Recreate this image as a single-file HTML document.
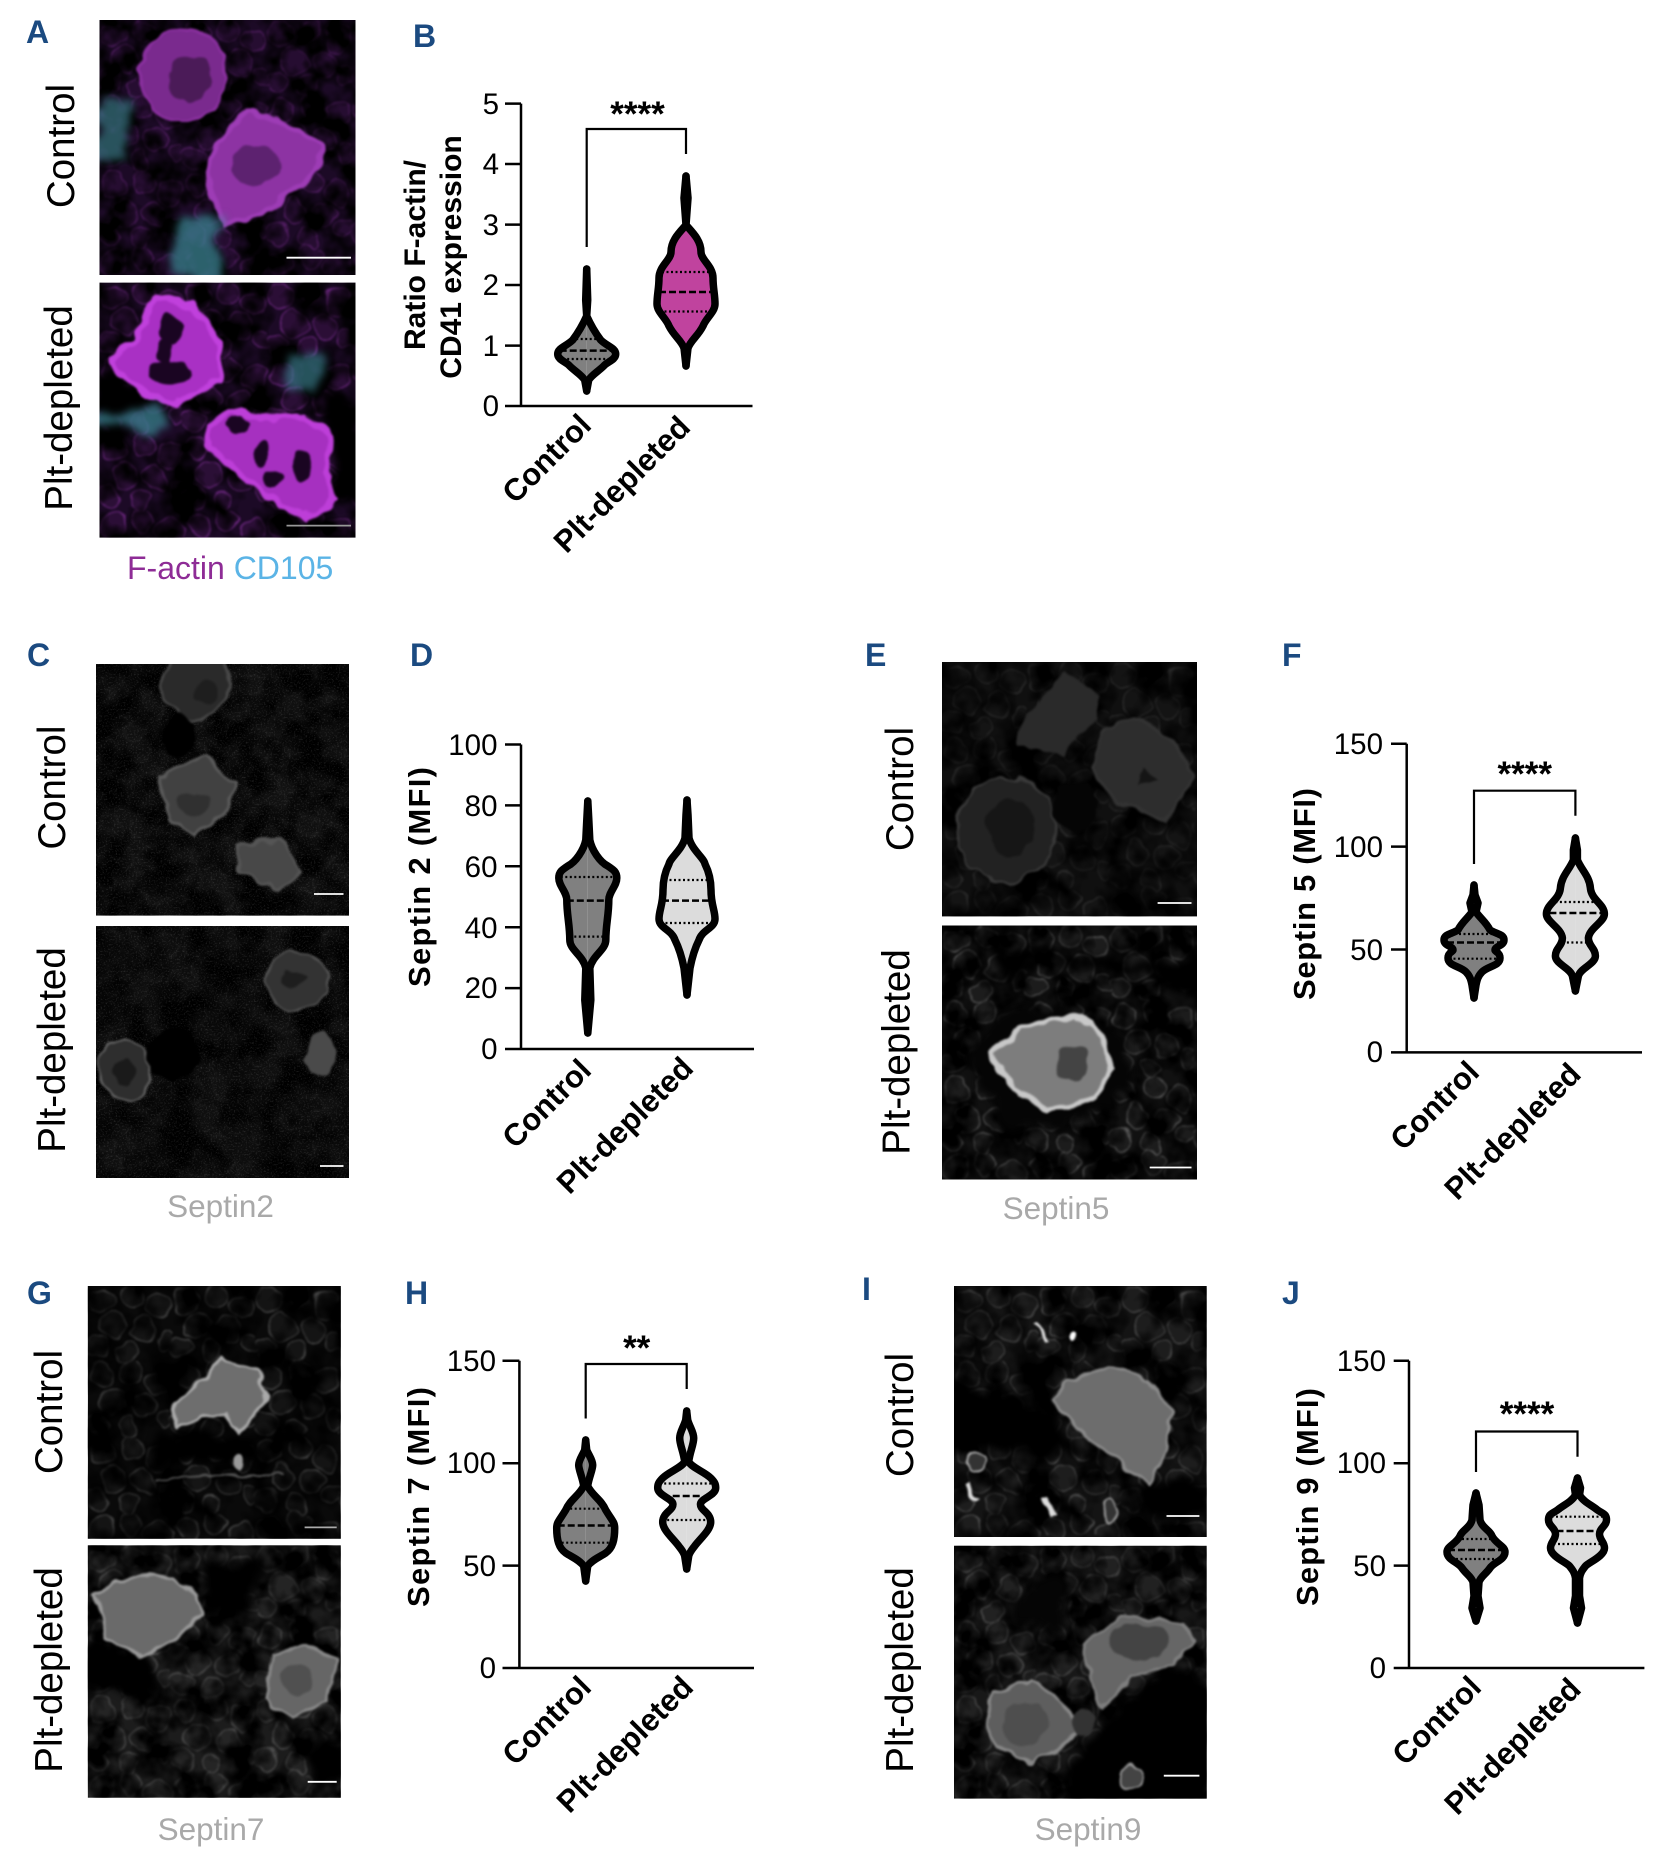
<!DOCTYPE html>
<html><head><meta charset="utf-8"><style>
html,body{margin:0;padding:0;background:#fff}
svg{display:block}
text{font-family:"Liberation Sans",Arial,sans-serif}
.L{font-size:32px;font-weight:700;fill:#1b4a80}
.R{font-size:38.5px;fill:#000;text-anchor:middle}
.C{font-size:31.5px;fill:#a9a9a9;text-anchor:middle}
.T{font-size:29.5px;fill:#000;text-anchor:end}
.Y{font-size:31px;font-weight:700;fill:#000;text-anchor:middle}
.X{font-size:31px;font-weight:700;fill:#000;text-anchor:end}
.S{font-size:35px;font-weight:700;fill:#000;text-anchor:middle}
.ax{fill:none;stroke:#000;stroke-width:2.5}
.br{fill:none;stroke:#000;stroke-width:2.2}
.v{stroke:#000;stroke-width:7.5;stroke-linejoin:round;stroke-linecap:round}
.m{stroke:#000;stroke-width:2.5;stroke-dasharray:7 3;fill:none}
.q{stroke:#000;stroke-width:2.2;stroke-dasharray:2 2.5;fill:none}
.sb{stroke:#fff;stroke-width:1.8}
</style></head><body>
<svg xmlns="http://www.w3.org/2000/svg" width="1659" height="1859" viewBox="0 0 1659 1859">
<defs>
<filter id="b1" x="-10%" y="-10%" width="120%" height="120%" color-interpolation-filters="sRGB"><feTurbulence type="fractalNoise" baseFrequency=".05" numOctaves="2" seed="3" result="n"/><feDisplacementMap in="SourceGraphic" in2="n" scale="13" xChannelSelector="R" yChannelSelector="G"/><feGaussianBlur stdDeviation="1"/></filter>
<filter id="b3" x="-40%" y="-40%" width="180%" height="180%" color-interpolation-filters="sRGB"><feTurbulence type="fractalNoise" baseFrequency=".025" numOctaves="3" seed="8" result="n"/><feDisplacementMap in="SourceGraphic" in2="n" scale="45" xChannelSelector="R" yChannelSelector="G"/><feGaussianBlur stdDeviation="4"/></filter>
<filter id="bl" x="0" y="0" width="100%" height="100%" color-interpolation-filters="sRGB"><feTurbulence type="fractalNoise" baseFrequency=".035" numOctaves="3" seed="7"/><feColorMatrix values="0 0 0 0 0 0 0 0 0 0 0 0 0 0 0 3 0 0 0 -1"/></filter>
<filter id="bk" x="0" y="0" width="100%" height="100%" color-interpolation-filters="sRGB"><feTurbulence type="fractalNoise" baseFrequency=".03" numOctaves="3" seed="21"/><feColorMatrix values="0 0 0 0 0 0 0 0 0 0 0 0 0 0 0 3 0 0 0 -1"/></filter>
<filter id="sp" x="0" y="0" width="100%" height="100%" color-interpolation-filters="sRGB"><feTurbulence type="fractalNoise" baseFrequency=".6" numOctaves="2" seed="5"/><feColorMatrix values="0 0 0 0 1 0 0 0 0 1 0 0 0 0 1 3 0 0 0 -1.55"/></filter>
<pattern id="pg" width="84" height="76" patternUnits="userSpaceOnUse">
<g fill="#fff" fill-opacity=".09" stroke="#fff" stroke-opacity=".5" stroke-width="1.2">
<circle cx="14" cy="14" r="12"/><circle cx="44" cy="10" r="11"/><circle cx="70" cy="20" r="13"/>
<circle cx="26" cy="40" r="13"/><circle cx="56" cy="44" r="12"/><circle cx="78" cy="56" r="9"/>
<circle cx="10" cy="62" r="11"/><circle cx="40" cy="66" r="10"/></g></pattern>
<pattern id="pp" width="84" height="76" patternUnits="userSpaceOnUse">
<g fill="#8d33a3" fill-opacity=".16" stroke="#a63cc0" stroke-opacity=".65" stroke-width="1.2">
<circle cx="14" cy="14" r="12"/><circle cx="44" cy="10" r="11"/><circle cx="70" cy="20" r="13"/>
<circle cx="26" cy="40" r="13"/><circle cx="56" cy="44" r="12"/><circle cx="78" cy="56" r="9"/>
<circle cx="10" cy="62" r="11"/><circle cx="40" cy="66" r="10"/></g></pattern>
</defs>
<rect width="1659" height="1859" fill="#fff"/>

<!-- Panel letters -->
<text class="L" x="26" y="43">A</text><text class="L" x="413" y="47">B</text>
<text class="L" x="27" y="666">C</text><text class="L" x="410" y="666">D</text>
<text class="L" x="865" y="666">E</text><text class="L" x="1282" y="666">F</text>
<text class="L" x="27" y="1304">G</text><text class="L" x="405" y="1304">H</text>
<text class="L" x="862" y="1300">I</text><text class="L" x="1282" y="1304">J</text>

<!-- A images -->
<svg x="99.5" y="20" width="256" height="255" viewBox="0 0 256 255">
<rect width="256" height="255" fill="#1c0a26"/>
<rect width="256" height="255" fill="url(#pp)" opacity=".55" filter="url(#b1)"/>
<rect width="256" height="255" filter="url(#bl)"/>
<g filter="url(#b1)">
<ellipse cx="84" cy="55" rx="43" ry="46" fill="#7a2a8e" stroke="#8a309f" stroke-width="3"/>
<ellipse cx="90" cy="58" rx="22" ry="24" fill="#4b1b58"/>
<path d="M145 93 186 103 224 126 217 150 196 170 166 190 125 205 112 170 110 138 125 115Z" fill="#8d33a3" stroke="#9d3cb5" stroke-width="5" stroke-linejoin="round"/>
<ellipse cx="156" cy="146" rx="25" ry="20" fill="#5d2270"/>
</g>
<g filter="url(#b3)"><rect x="-6" y="83" width="36" height="60" fill="#3f7f8f" opacity=".65"/><rect x="76" y="200" width="48" height="60" fill="#3f8a9a" opacity=".7"/></g>
<line class="sb" x1="187" y1="237.7" x2="251.5" y2="237.7"/>
</svg>
<svg x="99.5" y="282.6" width="256" height="255" viewBox="0 0 256 255">
<rect width="256" height="255" fill="#1c0a26"/>
<rect width="256" height="255" fill="url(#pp)" opacity=".85" filter="url(#b1)"/>
<rect width="256" height="255" filter="url(#bk)"/>
<g filter="url(#b3)"><rect x="-10" y="93" width="58" height="35" fill="#000"/><rect x="232" y="110" width="34" height="110" fill="#000"/></g>
<g filter="url(#b1)">
<path d="M54 14 94 22 120 61 120 97 79 121 48 113 10 81 23 65 38 57Z" fill="#a930c4" stroke="#c040dc" stroke-width="6" stroke-linejoin="round"/>
<ellipse cx="72" cy="46" rx="11" ry="14" fill="#1a0522"/><ellipse cx="70" cy="90" rx="21" ry="12" fill="#1a0522"/><ellipse cx="65" cy="68" rx="7" ry="14" fill="#1a0522"/>
<path d="M110 144 130 128 161 136 207 134 230 152 227 191 237 215 207 235 176 219 140 191 110 164Z" fill="#a630c0" stroke="#bd3ed8" stroke-width="6" stroke-linejoin="round"/>
<ellipse cx="138" cy="142" rx="13" ry="8" fill="#1a0522"/><ellipse cx="163" cy="172" rx="8" ry="12" fill="#1a0522"/><ellipse cx="173" cy="196" rx="8" ry="10" fill="#1a0522"/><ellipse cx="202" cy="184" rx="10" ry="16" fill="#1a0522"/>
</g>
<g filter="url(#b3)"><rect x="-6" y="130" width="66" height="16" fill="#3f8a9a" opacity=".7"/><rect x="188" y="70" width="32" height="48" fill="#3f8a9a" opacity=".6"/></g>
<line x1="187" y1="243" x2="251.5" y2="243" stroke="#999" stroke-width="1.8"/>
</svg>
<text class="R" transform="translate(74,146) rotate(-90)">Control</text>
<text class="R" transform="translate(72,408) rotate(-90)">Plt-depleted</text>
<text x="127" y="579" font-size="32"><tspan fill="#8e2c96">F-actin</tspan><tspan fill="#5bb4e6"> CD105</tspan></text>

<!-- C images -->
<svg x="96" y="664" width="253" height="251.6" viewBox="0 0 253 251.6">
<rect width="253" height="251.6" fill="#0f0f0f"/>
<rect width="253" height="251.6" fill="url(#pg)" opacity=".12" filter="url(#b1)"/>
<rect width="253" height="251.6" filter="url(#bl)"/>
<rect width="253" height="251.6" filter="url(#sp)" opacity=".12"/>
<g filter="url(#b1)">
<ellipse cx="100" cy="20" rx="33" ry="36" fill="#2a2a2a" stroke="#484848" stroke-width="3"/>
<ellipse cx="110" cy="28" rx="12" ry="12" fill="#1e1e1e"/>
<ellipse cx="83" cy="70" rx="18" ry="20" fill="#000"/>
<path d="M62 112 108 92 141 118 128 150 98 174 72 154Z" fill="#414141" stroke="#5a5a5a" stroke-width="3" stroke-linejoin="round"/>
<ellipse cx="98" cy="140" rx="16" ry="12" fill="#303030"/>
<path d="M141 181 185 177 205 209 181 225 143 209Z" fill="#484848" stroke="#555" stroke-width="3" stroke-linejoin="round"/>
</g>
<line class="sb" x1="218" y1="230" x2="247.5" y2="230"/>
</svg>
<svg x="96" y="926" width="253" height="252" viewBox="0 0 253 252">
<rect width="253" height="252" fill="#0d0d0d"/>
<rect width="253" height="252" fill="url(#pg)" opacity=".1" filter="url(#b1)"/>
<rect width="253" height="252" filter="url(#bk)"/>
<rect width="253" height="252" filter="url(#sp)" opacity=".12"/>
<g filter="url(#b1)">
<ellipse cx="200" cy="55" rx="30" ry="30" fill="#333" stroke="#555" stroke-width="2"/>
<ellipse cx="197" cy="53" rx="12" ry="8" fill="#1e1e1e"/>
<ellipse cx="29" cy="144" rx="26" ry="30" fill="#2e2e2e" stroke="#666" stroke-width="2"/>
<ellipse cx="28" cy="146" rx="11" ry="13" fill="#1a1a1a"/>
<ellipse cx="225" cy="128" rx="14" ry="22" fill="#4a4a4a"/>
<ellipse cx="78" cy="128" rx="25" ry="26" fill="#000"/>
</g>
<line class="sb" x1="224" y1="240" x2="247.5" y2="240"/>
</svg>
<text class="R" transform="translate(65,787.6) rotate(-90)">Control</text>
<text class="R" transform="translate(65,1050) rotate(-90)">Plt-depleted</text>
<text class="C" x="220.5" y="1217">Septin2</text>

<!-- E images -->
<svg x="942" y="662" width="255" height="254.4" viewBox="0 0 255 254.4">
<rect width="255" height="254.4" fill="#101010"/>
<rect width="255" height="254.4" fill="url(#pg)" opacity=".22" filter="url(#b1)"/>
<rect width="255" height="254.4" filter="url(#bk)"/>
<g filter="url(#b1)">
<path d="M123 9 154 37 154 57 118 92 76 80 86 57Z" fill="#2a2a2a" stroke="#2a2a2a" stroke-width="4" stroke-linejoin="round"/>
<path d="M191 53 232 77 251 116 222 159 175 140 149 108 159 69Z" fill="#2d2d2d" stroke="#333" stroke-width="3" stroke-linejoin="round"/>
<path d="M200 105 216 118 196 122Z" fill="#151515"/>
<ellipse cx="133" cy="144" rx="22" ry="25" fill="#050505"/>
<ellipse cx="65" cy="168" rx="50" ry="52" fill="#222" stroke="#3a3a3a" stroke-width="2"/>
<ellipse cx="68" cy="165" rx="25" ry="28" fill="#161616"/>
</g>
<line class="sb" x1="215.6" y1="241" x2="249.5" y2="241"/>
</svg>
<svg x="942" y="925.5" width="255" height="254" viewBox="0 0 255 254">
<rect width="255" height="254" fill="#111"/>
<rect width="255" height="254" fill="url(#pg)" opacity=".55" filter="url(#b1)"/>
<rect width="255" height="254" filter="url(#bl)"/>
<g filter="url(#b3)"><ellipse cx="108" cy="140" rx="78" ry="64" fill="#050505"/><path d="M60 50Q130 15 265 75V40L60 25Z" fill="#000"/></g>
<g filter="url(#b1)">
<path d="M50 129 76 102 133 90 159 110 170 141 154 173 107 185 76 169Z" fill="#7d7d7d" stroke="#c8c8c8" stroke-width="5" stroke-linejoin="round"/>
<ellipse cx="131" cy="137" rx="16" ry="18" fill="#444"/>
</g>
<line class="sb" x1="207.7" y1="242" x2="249.5" y2="242"/>
</svg>
<text class="R" transform="translate(913,789) rotate(-90)">Control</text>
<text class="R" transform="translate(909.5,1052) rotate(-90)">Plt-depleted</text>
<text class="C" x="1056" y="1219">Septin5</text>

<!-- G images -->
<svg x="87.8" y="1286" width="253" height="252.8" viewBox="0 0 253 252.8">
<rect width="253" height="252.8" fill="#0a0a0a"/>
<rect width="253" height="252.8" fill="url(#pg)" opacity=".5" filter="url(#b1)"/>
<rect width="253" height="252.8" filter="url(#bk)"/>
<g filter="url(#b3)"><rect x="60" y="145" width="110" height="35" fill="#000"/></g>
<g filter="url(#b1)">
<path d="M86 119 116 92 136 73 167 85 180 108 172 127 152 146 137 129 111 131 91 142Z" fill="#6e6e6e" stroke="#aaa" stroke-width="3" stroke-linejoin="round"/>
<ellipse cx="150" cy="176" rx="6" ry="8" fill="#999"/>
<line x1="70" y1="192" x2="195" y2="186" stroke="#555" stroke-width="2"/>
</g>
<line x1="216.8" y1="241.4" x2="248.9" y2="241.4" stroke="#aaa" stroke-width="1.8"/>
</svg>
<svg x="87.8" y="1545.3" width="253" height="252.5" viewBox="0 0 253 252.5">
<rect width="253" height="252.5" fill="#1c1c1c"/>
<rect width="253" height="252.5" fill="url(#pg)" opacity=".45" filter="url(#b1)"/>
<rect width="253" height="252.5" filter="url(#bl)"/>
<g filter="url(#b3)"><rect x="-10" y="97" width="75" height="50" fill="#000"/><rect x="116" y="13" width="50" height="55" fill="#000"/><rect x="225" y="190" width="38" height="50" fill="#000"/></g>
<g filter="url(#b1)">
<path d="M7 51 30 36 86 30 109 51 114 70 86 93 53 112 19 93Z" fill="#6a6a6a" stroke="#999" stroke-width="3" stroke-linejoin="round"/>
<path d="M185 108 218 100 249 116 239 154 203 173 178 154Z" fill="#666" stroke="#888" stroke-width="3" stroke-linejoin="round"/>
<ellipse cx="208" cy="135" rx="16" ry="16" fill="#505050"/>
</g>
<line class="sb" x1="219.9" y1="236.5" x2="248.9" y2="236.5"/>
</svg>
<text class="R" transform="translate(62,1412) rotate(-90)">Control</text>
<text class="R" transform="translate(62,1670) rotate(-90)">Plt-depleted</text>
<text class="C" x="211" y="1840">Septin7</text>

<!-- I images -->
<svg x="954" y="1286" width="252.7" height="251" viewBox="0 0 252.7 251">
<rect width="252.7" height="251" fill="#141414"/>
<rect width="252.7" height="251" fill="url(#pg)" opacity=".45" filter="url(#b1)"/>
<rect width="252.7" height="251" filter="url(#bk)"/>
<g filter="url(#b3)"><path d="M-10 90 95 125 125 165 100 175 -10 160Z" fill="#000"/><rect x="190" y="195" width="60" height="35" fill="#000"/></g>
<g filter="url(#b1)">
<path d="M111 96 152 81 194 93 218 127 212 165 194 199 168 177 126 146 100 115Z" fill="#6d6d6d" stroke="#8a8a8a" stroke-width="3" stroke-linejoin="round"/>
<ellipse cx="121" cy="52" rx="4" ry="5" fill="#fff"/>
<path d="M82 35 95 55" stroke="#ddd" stroke-width="4"/>
<circle cx="22" cy="175" r="9" fill="#333" stroke="#aaa" stroke-width="2"/>
<ellipse cx="155" cy="226" rx="8" ry="11" fill="#333" stroke="#999" stroke-width="2"/>
<path d="M12 198 24 215" stroke="#ddd" stroke-width="4"/>
<path d="M92 215 100 228" stroke="#ddd" stroke-width="5"/>
</g>
<line class="sb" x1="212.5" y1="230" x2="245.4" y2="230"/>
</svg>
<svg x="954" y="1545.7" width="252.7" height="252.9" viewBox="0 0 252.7 252.9">
<rect width="252.7" height="252.9" fill="#181818"/>
<rect width="252.7" height="252.9" fill="url(#pg)" opacity=".45" filter="url(#b1)"/>
<rect width="252.7" height="252.9" filter="url(#bl)"/>
<g filter="url(#b3)"><path d="M130 207C165 160 190 125 215 119L263 135V263H100Z" fill="#000"/><rect x="60" y="40" width="50" height="36" fill="#050505"/></g>
<g filter="url(#b1)">
<path d="M132 96 168 70 231 77 241 96 220 119 179 131 147 162 137 135Z" fill="#666" stroke="#7e7e7e" stroke-width="3" stroke-linejoin="round"/>
<ellipse cx="184" cy="96" rx="30" ry="18" fill="#444"/>
<path d="M37 146 79 133 110 157 126 184 100 207 79 218 43 203 32 172Z" fill="#5e5e5e" stroke="#888" stroke-width="3" stroke-linejoin="round"/>
<ellipse cx="70" cy="178" rx="24" ry="22" fill="#4e4e4e"/>
<ellipse cx="129" cy="176" rx="11" ry="14" fill="#333"/>
<circle cx="178" cy="232" r="12" fill="#444" stroke="#999" stroke-width="2"/>
</g>
<line class="sb" x1="209.8" y1="230" x2="245.4" y2="230"/>
</svg>
<text class="R" transform="translate(913,1415) rotate(-90)">Control</text>
<text class="R" transform="translate(913,1670) rotate(-90)">Plt-depleted</text>
<text class="C" x="1088" y="1840">Septin9</text>

<!-- Chart B -->
<path class="ax" d="M521 103.6V406M505 103.6H521M505 164H521M505 224.6H521M505 285H521M505 345.6H521M505 406H752.5"/>
<text class="T" x="499" y="114">5</text><text class="T" x="499" y="174">4</text><text class="T" x="499" y="235">3</text><text class="T" x="499" y="295">2</text><text class="T" x="499" y="356">1</text><text class="T" x="499" y="416">0</text>
<text class="Y" transform="translate(425,255) rotate(-90)" style="font-size:30px">Ratio F-actin/</text>
<text class="Y" transform="translate(461,257) rotate(-90)" style="font-size:30px">CD41 expression</text>
<path class="br" d="M586.7 247V129H686V154"/>
<text class="S" x="637.5" y="126">****</text>
<g transform="translate(586.7,0)" fill="#808080">
<path class="v" d="M0 269 1 300 0 316C4 325 8 332 14 340 20 346 29 348 29 354 29 360 20 362 17 366 12 371 5 375 2 380L0 391"/>
<path class="v" transform="scale(-1,1)" d="M0 269 1 300 0 316C4 325 8 332 14 340 20 346 29 348 29 354 29 360 20 362 17 366 12 371 5 375 2 380L0 391"/>
<path class="m" d="M-27 350.6H27"/><path class="q" d="M-15 339H15M-24 359H24"/>
</g>
<g transform="translate(686,0)" fill="#c0439e">
<path class="v" d="M0 176 2 198 0 225C6 232 15 240 15 252 15 260 27 266 27 278 27 288 29 295 29 304 29 312 20 318 17 326 12 336 5 340 2 348L0 366"/>
<path class="v" transform="scale(-1,1)" d="M0 176 2 198 0 225C6 232 15 240 15 252 15 260 27 266 27 278 27 288 29 295 29 304 29 312 20 318 17 326 12 336 5 340 2 348L0 366"/>
<path class="m" d="M-27 292H27"/><path class="q" d="M-24 272H24M-26 311.5H26"/>
</g>
<text class="X" transform="translate(593,427) rotate(-45)">Control</text>
<text class="X" transform="translate(692,429) rotate(-45)">Plt-depleted</text>

<!-- Chart D -->
<path class="ax" d="M521 744.5V1049M505 744.5H521M505 805.4H521M505 866.3H521M505 927.2H521M505 988.1H521M505 1049H754"/>
<text class="T" x="497.5" y="755">100</text><text class="T" x="497.5" y="816">80</text><text class="T" x="497.5" y="877">60</text><text class="T" x="497.5" y="938">40</text><text class="T" x="497.5" y="998">20</text><text class="T" x="497.5" y="1059">0</text>
<text class="Y" transform="translate(430,877) rotate(-90)" textLength="220" lengthAdjust="spacing">Septin 2 (MFI)</text>
<g transform="translate(587.8,0)" fill="#808080">
<path class="v" d="M0 801 1 820 2 840C4 850 12 862 20 866 26 870 29 872 29 878 29 886 21 892 21 900 21 915 18 925 18 940 18 950 5 955 2 968L3 1000 0 1033"/>
<path class="v" transform="scale(-1,1)" d="M0 801 1 820 2 840C4 850 12 862 20 866 26 870 29 872 29 878 29 886 21 892 21 900 21 915 18 925 18 940 18 950 5 955 2 968L3 1000 0 1033"/>
<path class="m" d="M-21 900.6H21"/><path class="q" d="M-27 877H27M-18 936.6H18"/>
</g>
<g transform="translate(687,0)" fill="#dcdcdc">
<path class="v" d="M0 800 1 815 2 838C5 850 17 858 18 864 22 872 24 880 24 890 24 905 28 910 28 919 28 928 15 930 12 940 8 948 5 958 3 968L0 995"/>
<path class="v" transform="scale(-1,1)" d="M0 800 1 815 2 838C5 850 17 858 18 864 22 872 24 880 24 890 24 905 28 910 28 919 28 928 15 930 12 940 8 948 5 958 3 968L0 995"/>
<path class="m" d="M-25 900.6H25"/><path class="q" d="M-22 880H22M-26 923H26"/>
</g>
<text class="X" transform="translate(593,1072) rotate(-45)">Control</text>
<text class="X" transform="translate(695,1070) rotate(-45)">Plt-depleted</text>

<!-- Chart F -->
<path class="ax" d="M1406.7 743.7V1052.4M1391 743.7H1406.7M1391 846.6H1406.7M1391 949.5H1406.7M1391 1052.4H1642"/>
<text class="T" x="1383" y="754">150</text><text class="T" x="1383" y="857">100</text><text class="T" x="1383" y="960">50</text><text class="T" x="1383" y="1062">0</text>
<text class="Y" transform="translate(1315,894) rotate(-90)" textLength="212" lengthAdjust="spacing">Septin 5 (MFI)</text>
<path class="br" d="M1474 864V790.7H1575.4V815.7"/>
<text class="S" x="1524.8" y="786">****</text>
<g transform="translate(1474,0)" fill="#808080">
<path class="v" d="M0 885 1 895 4 903 2 912C6 918 12 922 16 930 22 934 30 934 30 940 30 946 21 946 21 950 21 952 26 952 26 958 26 966 14 966 8 972 4 976 3 980 2 985L0 998"/>
<path class="v" transform="scale(-1,1)" d="M0 885 1 895 4 903 2 912C6 918 12 922 16 930 22 934 30 934 30 940 30 946 21 946 21 950 21 952 26 952 26 958 26 966 14 966 8 972 4 976 3 980 2 985L0 998"/>
<path class="m" d="M-27 942.5H27"/><path class="q" d="M-24 934H24M-25 958.7H25"/>
</g>
<g transform="translate(1575.4,0)" fill="#dcdcdc">
<path class="v" d="M0 838 2 850 2 860C6 870 14 876 15 888 16 900 29 904 29 914 29 922 14 928 13 938 13 946 20 948 20 956 20 964 5 968 3 976L0 991"/>
<path class="v" transform="scale(-1,1)" d="M0 838 2 850 2 860C6 870 14 876 15 888 16 900 29 904 29 914 29 922 14 928 13 938 13 946 20 948 20 956 20 964 5 968 3 976L0 991"/>
<path class="m" d="M-26 913H26"/><path class="q" d="M-20 902H20M-13 942.5H13"/>
</g>
<text class="X" transform="translate(1481,1074) rotate(-45)">Control</text>
<text class="X" transform="translate(1582.7,1076) rotate(-45)">Plt-depleted</text>

<!-- Chart H -->
<path class="ax" d="M519.4 1360.8V1668M502.5 1360.8H519.4M502.5 1463.2H519.4M502.5 1565.6H519.4M502.5 1668H754"/>
<text class="T" x="496" y="1371">150</text><text class="T" x="496" y="1473">100</text><text class="T" x="496" y="1576">50</text><text class="T" x="496" y="1678">0</text>
<text class="Y" transform="translate(429,1497) rotate(-90)" textLength="220" lengthAdjust="spacing">Septin 7 (MFI)</text>
<path class="br" d="M585.7 1418.5V1364H686.7V1389"/>
<text class="S" x="636.7" y="1360">**</text>
<g transform="translate(585.7,0)" fill="#808080">
<path class="v" d="M0 1440 1 1450C3 1455 7 1460 7 1465 7 1470 3 1478 2 1486 6 1495 16 1500 20 1510 26 1520 29 1522 29 1528 29 1540 27 1548 20 1553 14 1557 6 1560 2 1566L0 1581"/>
<path class="v" transform="scale(-1,1)" d="M0 1440 1 1450C3 1455 7 1460 7 1465 7 1470 3 1478 2 1486 6 1495 16 1500 20 1510 26 1520 29 1522 29 1528 29 1540 27 1548 20 1553 14 1557 6 1560 2 1566L0 1581"/>
<path class="m" d="M-28 1525.5H28"/><path class="q" d="M-20 1508.7H20M-24 1542.7H24"/>
</g>
<g transform="translate(686.7,0)" fill="#dcdcdc">
<path class="v" d="M0 1411 1 1420C3 1427 7 1432 7 1438 7 1445 3 1452 2 1462 6 1468 18 1472 24 1478 28 1482 29 1484 29 1488 29 1495 16 1498 14 1503 12 1510 24 1512 24 1522 24 1530 14 1538 8 1546 5 1550 3 1552 2 1556L0 1569"/>
<path class="v" transform="scale(-1,1)" d="M0 1411 1 1420C3 1427 7 1432 7 1438 7 1445 3 1452 2 1462 6 1468 18 1472 24 1478 28 1482 29 1484 29 1488 29 1495 16 1498 14 1503 12 1510 24 1512 24 1522 24 1530 14 1538 8 1546 5 1550 3 1552 2 1556L0 1569"/>
<path class="m" d="M-14 1496H14"/><path class="q" d="M-27 1483.5H27M-24 1520H24"/>
</g>
<text class="X" transform="translate(593,1689) rotate(-45)">Control</text>
<text class="X" transform="translate(695,1689) rotate(-45)">Plt-depleted</text>

<!-- Chart J -->
<path class="ax" d="M1409 1360.8V1668M1393.7 1360.8H1409M1393.7 1463.2H1409M1393.7 1565.6H1409M1393.7 1668H1644.4"/>
<text class="T" x="1386" y="1371">150</text><text class="T" x="1386" y="1473">100</text><text class="T" x="1386" y="1576">50</text><text class="T" x="1386" y="1678">0</text>
<text class="Y" transform="translate(1318,1497) rotate(-90)" textLength="218" lengthAdjust="spacing">Septin 9 (MFI)</text>
<path class="br" d="M1476 1472V1431.5H1577.5V1456.7"/>
<text class="S" x="1527" y="1426">****</text>
<g transform="translate(1476,0)" fill="#808080">
<path class="v" d="M0 1493 3 1505 4 1520C6 1528 14 1530 16 1536 20 1544 29 1546 29 1552 29 1560 18 1562 14 1568 10 1574 5 1576 3 1582L2 1596 4 1608 0 1621"/>
<path class="v" transform="scale(-1,1)" d="M0 1493 3 1505 4 1520C6 1528 14 1530 16 1536 20 1544 29 1546 29 1552 29 1560 18 1562 14 1568 10 1574 5 1576 3 1582L2 1596 4 1608 0 1621"/>
<path class="m" d="M-28 1550H28"/><path class="q" d="M-14 1539H14M-20 1559H20"/>
</g>
<g transform="translate(1577.5,0)" fill="#dcdcdc">
<path class="v" d="M0 1478 3 1488 2 1495C6 1502 14 1505 20 1510 26 1514 29 1514 29 1520 29 1526 22 1528 22 1534 22 1540 27 1542 27 1548 27 1556 12 1562 8 1566 5 1570 3 1572 2 1578L2 1596 4 1608 0 1623"/>
<path class="v" transform="scale(-1,1)" d="M0 1478 3 1488 2 1495C6 1502 14 1505 20 1510 26 1514 29 1514 29 1520 29 1526 22 1528 22 1534 22 1540 27 1542 27 1548 27 1556 12 1562 8 1566 5 1570 3 1572 2 1578L2 1596 4 1608 0 1623"/>
<path class="m" d="M-21 1531H21"/><path class="q" d="M-26 1516.7H26M-24 1544H24"/>
</g>
<text class="X" transform="translate(1483,1689) rotate(-45)">Control</text>
<text class="X" transform="translate(1582.7,1691) rotate(-45)">Plt-depleted</text>
</svg>
</body></html>
